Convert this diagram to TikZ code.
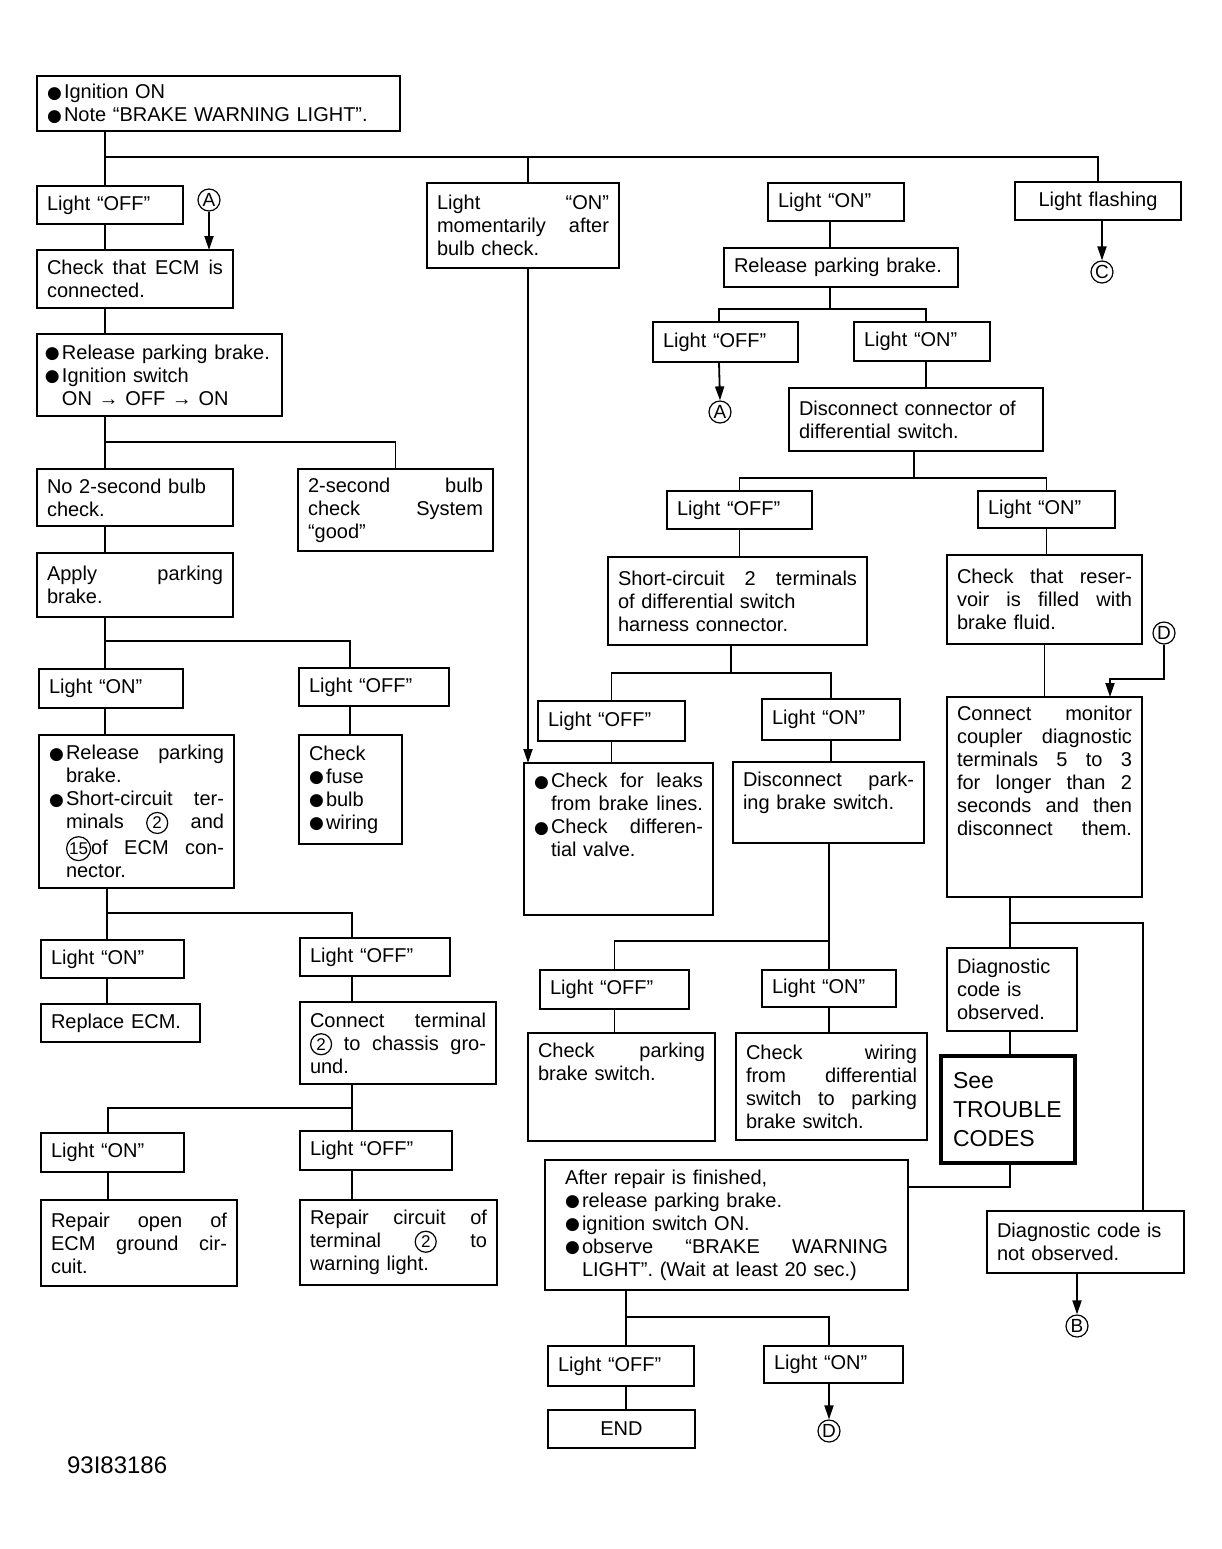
\documentclass[tikz,border=0pt]{standalone}
\usepackage{fontspec}
\setmainfont{Liberation Sans}
\newfontfamily\bulletfont{DejaVu Sans}
\usepackage{tikz}
\usetikzlibrary{arrows.meta}

\newlength{\bulw}
\setlength{\bulw}{8.5pt}
\newcommand{\bul}{\makebox[\bulw][l]{\raisebox{0.1pt}{\bulletfont\fontsize{8.5}{8.5}\selectfont ●}}}
\newcommand{\jl}[1]{\leavevmode\hbox to \hsize{\spaceskip=0.28em plus 1fil\relax #1}}
\newcommand{\ijl}[1]{\leavevmode\hspace*{\bulw}\hbox to \dimexpr\hsize-\bulw\relax{\spaceskip=0.28em plus 1fil\relax #1}}
\newcommand{\bjl}[1]{\bul\hbox to \dimexpr\hsize-\bulw\relax{\spaceskip=0.28em plus 1fil\relax #1}}
\newcommand{\dep}[1]{\rule[-#1]{0pt}{#1}}
\newcommand{\circnum}[1]{\tikz[baseline=(cn.base)]\node[draw, circle, line width=0.6pt, inner sep=0.3pt, minimum size=10.5pt, font=\fontsize{8.5}{8.5}\selectfont] (cn) {#1};}

\begin{document}
\begin{tikzpicture}[
  x=0.5pt, y=-0.5pt,
  box/.style={
    draw, rectangle, line width=1.1pt, anchor=north west,
    align=left, inner xsep=5pt, inner ysep=3pt, outer sep=0pt,
    font=\fontsize{10}{11.5}\selectfont
  },
  sz/.style 2 args={text width={#1*0.5pt-10pt}, minimum height={#2*0.5pt}},
  conn/.style={circle, draw, line width=0.6pt, inner sep=0pt,
    minimum size=11pt, font=\fontsize{9.5}{9.5}\selectfont},
  link/.style={line width=0.9pt},
  arrow/.style={link, -{Triangle[length=7pt,width=4.5pt]}}
]
\useasboundingbox (0,0) rectangle (1222,1549);

% left column
\node[box, sz={363}{55}] (start) at (37,76) {\bul Ignition ON\\\bul Note “BRAKE WARNING LIGHT”.};
\node[box, sz={146}{38}] (offA) at (37,186) {Light “OFF”};
\node[conn] (cA1) at (209,200) {A};
\node[box, sz={196}{58}] (ecm) at (37,250) {\jl{Check that ECM is}\\connected.};
\node[box, sz={245}{82}, inner xsep=4pt, text width=114.5pt] (rel1) at (37,334) {\bul Release parking brake.\\\bul Ignition switch\\\hspace*{\bulw}ON → OFF → ON};
\node[box, sz={196}{57}] (nobulb) at (37,469) {No 2-second bulb\\check.};
\node[box, sz={195}{82}] (good) at (298,469) {\jl{2-second bulb}\\\jl{check System}\\“good”};
\node[box, sz={196}{64}] (apply) at (37,553) {\jl{Apply parking}\\brake.};
\node[box, sz={144}{39}] (onL) at (39,669) {Light “ON”};
\node[box, sz={150}{38}] (offL) at (299,668) {Light “OFF”};
\node[box, sz={195}{153}] (short1) at (39,735) {\bjl{Release parking}\\\hspace*{\bulw}brake.\\\bjl{Short-circuit ter-}\\\ijl{minals \circnum{2} and}\\\ijl{\circnum{15}of ECM con-}\\\hspace*{\bulw}nector.};
\node[box, sz={103}{109}] (fuse) at (299,735) {Check\\\bul fuse\\\bul bulb\\\bul wiring};
\node[box, sz={143}{38}] (onL2) at (41,940) {Light “ON”};
\node[box, sz={150}{38}] (offL2) at (300,938) {Light “OFF”};
\node[box, sz={159}{38}] (replace) at (41,1004) {Replace ECM.};
\node[box, sz={196}{82}] (connterm) at (300,1002) {\jl{Connect terminal}\\\jl{\circnum{2} to chassis gro-}\\und.};
\node[box, sz={143}{39}] (onL3) at (41,1133) {Light “ON”};
\node[box, sz={152}{39}] (offL3) at (300,1131) {Light “OFF”};
\node[box, sz={196}{86}] (repopen) at (41,1200) {\jl{Repair open of}\\\jl{ECM ground cir-}\\cuit.};
\node[box, sz={197}{85}] (repcirc) at (300,1200) {\jl{Repair circuit of}\\\jl{terminal \circnum{2} to}\\warning light.};

% middle columns
\node[box, sz={192}{85}] (moment) at (427,183) {\jl{Light “ON”}\\\jl{momentarily after}\\bulb check.};
\node[box, sz={136}{38}] (onB) at (768,183) {Light “ON”};
\node[box, sz={234}{39}] (relpb) at (724,248) {Release parking brake.};
\node[box, sz={145}{40}] (offC) at (653,322) {Light “OFF”};
\node[box, sz={136}{39}] (onC) at (854,322) {Light “ON”};
\node[conn] (cA2) at (720,412) {A};
\node[box, sz={254}{63}] (disc) at (789,388) {Disconnect connector of\\differential switch.};
\node[box, sz={145}{38}] (offD) at (667,491) {Light “OFF”};
\node[box, sz={137}{37}] (onD) at (978,491) {Light “ON”};
\node[box, sz={259}{88}] (shortdiff) at (608,557) {\jl{Short-circuit 2 terminals}\\of differential switch\\harness connector.};
\node[box, sz={147}{40}] (offE) at (538,701) {Light “OFF”};
\node[box, sz={138}{41}] (onE) at (762,699) {Light “ON”};
\node[box, sz={189}{152}] (leaks) at (524,763) {\bjl{Check for leaks}\\\ijl{from brake lines.}\\\bjl{Check differen-}\\\hspace*{\bulw}tial valve.\dep{24pt}};
\node[box, sz={191}{81}] (discpb) at (733,762) {\jl{Disconnect park-}\\ing brake switch.\dep{12pt}};
\node[box, sz={149}{39}] (offF) at (540,970) {Light “OFF”};
\node[box, sz={134}{37}] (onF) at (762,970) {Light “ON”};
\node[box, sz={187}{108}] (chkpb) at (528,1033) {\jl{Check parking}\\brake switch.\dep{25pt}};
\node[box, sz={191}{107}] (chkwire) at (736,1033) {\jl{Check wiring}\\\jl{from differential}\\\jl{switch to parking}\\brake switch.};
\node[box, sz={363}{130}, inner xsep=10pt, text width=161.5pt] (after) at (545,1160) {After repair is finished,\\\bul release parking brake.\\\bul ignition switch ON.\\\bjl{observe “BRAKE WARNING}\\\hspace*{\bulw}LIGHT”. (Wait at least 20 sec.)};
\node[box, sz={146}{40}] (offG) at (548,1346) {Light “OFF”};
\node[box, sz={139}{37}] (onG) at (764,1346) {Light “ON”};
\node[box, sz={147}{38}, align=center] (endbox) at (548,1410) {END};
\node[conn] (cD2) at (829,1431) {D};

% right column
\node[box, sz={166}{38}, align=center] (flash) at (1015,182) {Light flashing};
\node[conn] (cC) at (1102,272) {C};
\node[box, sz={195}{89}] (reservoir) at (947,555) {\jl{Check that reser-}\\\jl{voir is filled with}\\brake fluid.};
\node[conn] (cD1) at (1164,633) {D};
\node[box, sz={195}{200}] (monitor) at (947,697) {\jl{Connect monitor}\\\jl{coupler diagnostic}\\\jl{terminals 5 to 3}\\\jl{for longer than 2}\\\jl{seconds and then}\\\jl{disconnect them.}\dep{26pt}};
\node[box, sz={130}{83}] (diag) at (947,948) {Diagnostic\\code is\\observed.};
\node[box, sz={136}{107}, line width=2pt, inner xsep=6pt, text width=55pt, font=\fontsize{11.5}{14.3}\selectfont] (trouble) at (941,1056) {See\\TROUBLE\\CODES};
\node[box, sz={197}{62}] (notobs) at (987,1211) {Diagnostic code is\\not observed.};
\node[conn] (cB) at (1077,1326) {B};

\node[anchor=west, font=\fontsize{12}{12}\selectfont] (fignum) at (60,1465) {93I83186};

% branch points
\coordinate (bus) at (105,157);
\coordinate (mx) at (528,157);
\coordinate (b2) at (105,442);
\coordinate (b3) at (105,641);
\coordinate (b3r) at (350,641);
\coordinate (b4) at (107,913);
\coordinate (b4r) at (352,913);
\coordinate (b5) at (108,1108);
\coordinate (b5r) at (352,1108);
\coordinate (c6) at (830,309);
\coordinate (c6l) at (719,309);
\coordinate (c6r) at (926,309);
\coordinate (c7) at (914,478);
\coordinate (c8) at (731,673);
\coordinate (c9) at (829,941);
\coordinate (c10) at (626,1317);
\coordinate (c10r) at (829,1317);
\coordinate (dd) at (1110,679);
\coordinate (m1) at (1010,923);
\coordinate (m1r) at (1143,923);
\coordinate (t1) at (1010,1187);

% connectors, left
\draw[link] (start.south -| bus) -- (offA.north -| bus);
\draw[link] (bus) -| (flash.north);
\draw[link] (mx) -- (moment.north -| mx);
\draw[link] (onB.north -| c6) -- (onB.north -| c6 |- bus);
\draw[link] (offA.south -| bus) -- (ecm.north -| bus);
\draw[arrow] (cA1.south) -- (cA1.south |- ecm.north);
\draw[link] (ecm.south -| bus) -- (rel1.north -| bus);
\draw[link] (rel1.south -| b2) -- (nobulb.north -| b2);
\draw[link] (b2) -| (good.north);
\draw[link] (nobulb.south -| b2) -- (apply.north -| b2);
\draw[link] (apply.south -| b3) -- (onL.north -| b3);
\draw[link] (b3) -- (b3r) -- (offL.north -| b3r);
\draw[link] (onL.south -| b3) -- (short1.north -| b3);
\draw[link] (offL.south -| b3r) -- (fuse.north -| b3r);
\draw[link] (short1.south -| b4) -- (onL2.north -| b4);
\draw[link] (b4) -- (b4r) -- (offL2.north -| b4r);
\draw[link] (onL2.south -| b4) -- (replace.north -| b4);
\draw[link] (offL2.south -| b4r) -- (connterm.north -| b4r);
\draw[link] (connterm.south -| b5r) -- (offL3.north -| b5r);
\draw[link] (b5r) -- (b5) -- (onL3.north -| b5);
\draw[link] (onL3.south -| b5) -- (repopen.north -| b5);
\draw[link] (offL3.south -| b5r) -- (repcirc.north -| b5r);

% connectors, middle
\draw[arrow] (moment.south -| mx) -- (leaks.north -| mx);
\draw[link] (onB.south -| c6) -- (relpb.north -| c6);
\draw[link] (relpb.south -| c6) -- (c6);
\draw[link] (offC.north -| c6l) -- (c6l) -- (c6r) -- (onC.north -| c6r);
\draw[arrow] (offC.south -| c6l) -- (cA2.north);
\draw[link] (onC.south -| c6r) -- (disc.north -| c6r);
\draw[link] (disc.south -| c7) -- (c7);
\draw[link] (offD.north) |- (c7) -| (onD.north);
\draw[link] (offD.south) -- (offD.south |- shortdiff.north);
\draw[link] (shortdiff.south -| c8) -- (c8);
\draw[link] (offE.north) |- (c8) -| (onE.north);
\draw[link] (offE.south) -- (offE.south |- leaks.north);
\draw[link] (onE.south) -- (onE.south |- discpb.north);
\draw[link] (discpb.south -| c9) -- (onF.north -| c9);
\draw[link] (offF.north) |- (c9);
\draw[link] (offF.south) -- (offF.south |- chkpb.north);
\draw[link] (onF.south -| c9) -- (chkwire.north -| c9);
\draw[link] (after.south -| c10) -- (offG.north -| c10);
\draw[link] (c10) -- (c10r) -- (onG.north -| c10r);
\draw[link] (offG.south -| c10) -- (endbox.north -| c10);
\draw[arrow] (onG.south -| c10r) -- (cD2.north);

% connectors, right
\draw[arrow] (flash.south -| cC) -- (cC.north);
\draw[link] (onD.south) -- (onD.south |- reservoir.north);
\draw[link] (reservoir.south) -- (reservoir.south |- monitor.north);
\draw[arrow] (cD1.south) |- (dd) -- (dd |- monitor.north);
\draw[link] (monitor.south -| m1) -- (diag.north -| m1);
\draw[link] (m1) -- (m1r) -- (notobs.north -| m1r);
\draw[link] (diag.south -| m1) -- (trouble.north -| m1);
\draw[link] (trouble.south -| t1) -- (t1) -- (after.east |- t1);
\draw[arrow] (notobs.south -| cB) -- (cB.north);

\end{tikzpicture}
\end{document}
